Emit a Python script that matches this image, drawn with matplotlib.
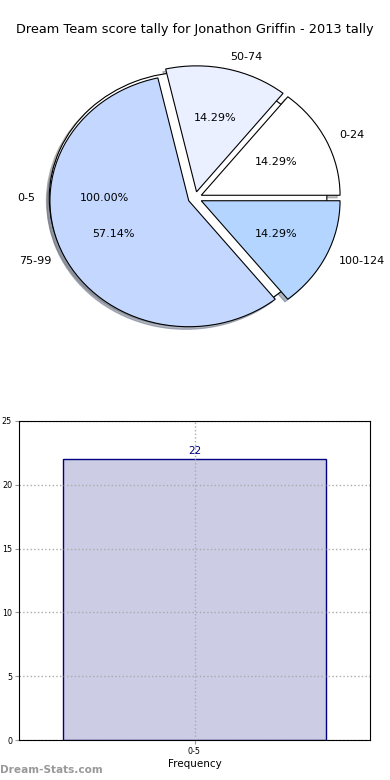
import matplotlib
matplotlib.use("Agg")
import matplotlib.pyplot as plt

title = "Dream Team score tally for Jonathon Griffin - 2013 tally"

# pie data (two pies drawn on the same axes, like the original)
back_labels = ["0-5"]
back_values = [22]
pie_labels = ["0-24", "50-74", "75-99", "100-124"]
pie_values = [1, 1, 4, 1]
pie_colors = ["#ffffff", "#eaf0ff", "#c4d8ff", "#b3d5ff"]

# bar data
bar_labels = ["0-5"]
bar_values = [22]

shadow_opts = dict(ox=-0.015, oy=-0.015, shade=0.5)


def make_pie(ax):
    ax.pie(back_values, labels=back_labels, colors=["#ffffff"],
           explode=[0.05] * len(back_values), autopct="%1.2f%%",
           shadow=shadow_opts, startangle=0, counterclock=True,
           wedgeprops=dict(edgecolor="black", linewidth=0.8),
           textprops=dict(fontsize=8))
    ax.pie(pie_values, labels=pie_labels, colors=pie_colors,
           explode=[0.05] * len(pie_values), autopct="%1.2f%%",
           shadow=shadow_opts, startangle=0, counterclock=True,
           wedgeprops=dict(edgecolor="black", linewidth=0.8),
           textprops=dict(fontsize=8))
    ax.set_aspect("auto")
    ax.set_xlim(-1.25, 1.25)
    ax.set_ylim(-1.25, 1.25)
    ax.axis("off")


def make_bar(ax):
    x = list(range(len(bar_values)))
    bars = ax.bar(x, bar_values, width=0.8, color="#ccccE5",
                  edgecolor="#000080", linewidth=1)
    for b, v in zip(bars, bar_values):
        ax.text(b.get_x() + b.get_width() / 2, v + 0.25, str(v),
                ha="center", va="bottom", fontsize=7.5, color="#000080")
    ax.set_xlim(-0.532, 0.532)
    ax.set_ylim(0, 25)
    ax.set_yticks([0, 5, 10, 15, 20, 25])
    ax.set_xticks(x)
    ax.set_xticklabels(bar_labels)
    ax.tick_params(labelsize=5.8, length=3, color="#999999", pad=2)
    ax.grid(True, linestyle=":", color="#aaaaaa", linewidth=1)
    ax.set_axisbelow("line")
    for s in ax.spines.values():
        s.set_zorder(3)
    ax.set_xlabel("Frequency", fontsize=7.5, labelpad=2)
    ax.set_ylabel("Frequency", fontsize=7.5)
    ax.yaxis.set_label_coords(-0.09, 0.5)


fig = plt.figure(figsize=(3.9, 7.8), dpi=100)
fig.text(0.5, 1 - 30 / 780, title, ha="center", va="center", fontsize=9.3)

ax1 = fig.add_axes([21.5 / 390, 1 - 355.5 / 780, 347 / 390, 315 / 780])
make_pie(ax1)

ax2 = fig.add_axes([19 / 390, 1 - 740 / 780, 351 / 390, 319 / 780])
make_bar(ax2)

fig.text(0.0, 1 - 770 / 780, "Dream-Stats.com", ha="left", va="center",
         fontsize=7.6, color="#999999", fontweight="bold")

fig.savefig("out.png", dpi=100)
